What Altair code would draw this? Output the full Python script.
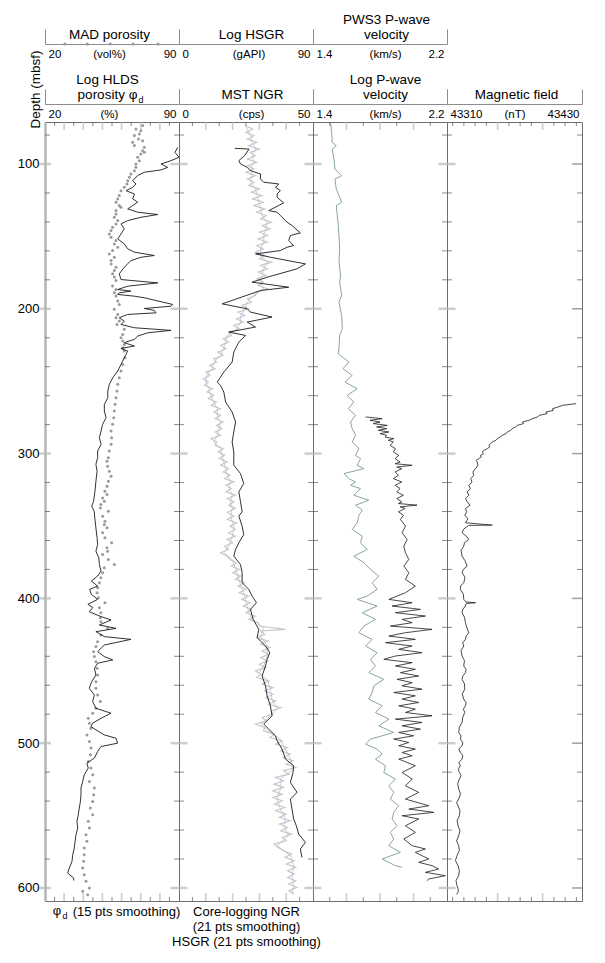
import altair as alt
import pandas as pd

FONT = "Liberation Sans"
DEPTH_DOMAIN = [71, 609]
H = 779

# ---------------- data (depth mbsf, value) ----------------
HLDS = [(88.5, 89.3), (92.0, 87.9), (95.4, 90.0), (97.7, 85.8), (100.0, 80.6), (102.3, 84.1), (104.1, 80.6),
        (105.7, 71.9), (108.0, 68.4), (111.5, 65.8), (113.8, 67.5), (116.1, 65.8), (118.4, 62.3), (120.7, 66.7),
        (124.1, 65.8), (126.4, 68.4), (128.7, 65.8), (131.0, 63.2), (133.3, 68.4), (134.9, 78.9), (136.8, 70.2),
        (139.1, 63.2), (141.4, 59.7), (144.8, 61.4), (148.3, 59.7), (151.7, 58.0), (155.2, 61.4), (158.6, 63.2),
        (160.9, 66.7), (163.2, 77.1), (164.4, 70.2), (166.7, 64.9), (171.3, 61.4), (175.9, 58.8), (179.8, 59.7),
        (182.1, 78.9), (184.4, 63.2), (186.7, 58.0), (187.8, 64.9), (189.0, 58.8), (190.1, 58.0), (191.3, 66.7),
        (192.4, 71.9), (197.0, 86.7), (198.2, 85.8), (199.8, 71.9), (201.1, 77.1), (202.8, 78.0), (203.9, 63.2),
        (206.2, 58.8), (208.5, 61.4), (210.8, 59.7), (213.1, 66.7), (214.9, 85.8), (216.6, 73.6), (218.9, 68.4),
        (221.1, 66.7), (223.4, 61.4), (225.7, 66.7), (227.4, 59.7), (229.2, 63.2), (231.5, 62.3), (233.8, 61.4),
        (238.4, 59.7), (243.0, 58.0), (247.6, 55.4), (252.2, 53.6), (256.8, 52.8), (261.4, 52.8), (266.0, 51.0),
        (270.6, 51.0), (275.2, 51.9), (279.8, 50.1), (284.4, 49.3), (289.0, 48.4), (293.6, 49.3), (298.2, 47.5),
        (302.8, 47.5), (307.4, 46.6), (312.2, 47.2), (319.1, 46.6), (326.0, 46.1), (332.9, 45.4), (336.3, 44.4),
        (339.8, 45.7), (345.5, 46.1), (351.3, 46.6), (358.2, 47.2), (362.8, 47.5), (367.4, 46.6), (372.0, 48.1),
        (376.6, 48.4), (381.1, 49.3), (384.6, 47.5), (388.0, 44.2), (391.5, 47.5), (393.8, 43.3), (397.2, 44.2),
        (400.7, 47.5), (404.1, 42.4), (406.4, 45.0), (409.2, 43.1), (412.6, 49.3), (414.9, 54.5), (418.4, 48.4),
        (420.7, 57.1), (423.0, 46.6), (426.4, 51.0), (428.3, 64.9), (432.2, 51.0), (436.8, 47.5), (440.2, 51.0),
        (442.5, 55.4), (444.8, 47.5), (448.3, 45.8), (452.9, 46.6), (457.5, 44.4), (462.1, 43.1), (466.7, 45.8),
        (471.3, 44.9), (475.9, 46.6), (479.3, 54.5), (482.8, 49.3), (486.2, 44.9), (488.5, 44.0), (490.8, 46.6),
        (494.3, 51.0), (496.6, 57.1), (500.0, 57.9), (502.3, 49.3), (505.7, 47.5), (510.3, 45.8), (513.8, 41.9),
        (517.2, 42.6), (521.8, 40.5), (526.4, 39.7), (531.0, 38.8), (535.6, 38.8), (540.2, 38.5), (544.8, 37.9),
        (549.4, 37.4), (554.0, 36.7), (558.6, 37.1), (563.2, 36.2), (567.8, 35.7), (572.4, 35.3), (577.0, 34.5),
        (581.6, 34.1), (586.2, 32.7), (589.7, 31.8), (593.1, 35.0), (594.9, 35.0)]

MAD = [(73.5, 71.0), (75.8, 67.5), (77.0, 70.1), (79.3, 69.3), (80.4, 66.7), (82.7, 68.8), (83.9, 71.0),
       (85.0, 65.8), (87.3, 66.7), (88.5, 71.9), (90.8, 71.0), (91.9, 71.9), (93.1, 70.1), (95.4, 68.4),
       (97.7, 69.3), (100.0, 67.5), (102.3, 67.5), (104.6, 66.7), (106.9, 64.9), (109.2, 64.1), (111.5, 63.2),
       (113.8, 62.8), (116.1, 61.4), (118.4, 59.7), (121.8, 58.8), (124.1, 58.0), (126.4, 57.1), (128.7, 58.8),
       (129.9, 59.7), (132.2, 57.1), (134.5, 57.1), (136.8, 56.2), (139.1, 58.0), (141.4, 57.1), (143.7, 55.3),
       (146.0, 54.5), (148.3, 53.6), (150.6, 54.5), (152.9, 57.1), (155.2, 56.2), (157.5, 58.0), (159.8, 55.3),
       (162.1, 53.6), (164.4, 56.2), (166.7, 54.5), (169.0, 54.5), (171.3, 57.1), (173.6, 56.2), (175.8, 55.3),
       (178.1, 56.2), (180.4, 57.1), (184.3, 55.3), (186.6, 57.1), (188.9, 56.2), (191.2, 57.1), (194.7, 58.0),
       (197.0, 58.8), (200.4, 56.2), (203.9, 58.0), (206.2, 57.1), (208.5, 58.8), (210.8, 57.6), (214.2, 61.4),
       (217.7, 60.6), (220.0, 59.7), (222.3, 60.6), (224.6, 61.4), (226.9, 60.6), (229.2, 61.4), (233.8, 61.8),
       (238.4, 60.6), (243.0, 59.7), (247.6, 58.8), (252.2, 58.0), (256.8, 57.6), (261.4, 57.1), (266.0, 56.6),
       (270.6, 56.2), (275.2, 55.9), (279.8, 55.3), (284.4, 54.5), (289.0, 54.8), (293.6, 54.5), (298.2, 53.6),
       (302.8, 53.1), (305.3, 52.4), (308.7, 52.7), (312.2, 53.6), (315.6, 54.5), (319.1, 53.1), (322.5, 52.4),
       (326.0, 51.3), (328.3, 52.4), (330.6, 50.1), (332.9, 51.0), (335.2, 49.2), (337.5, 48.9), (339.8, 53.1),
       (343.2, 50.1), (346.7, 51.3), (349.0, 51.0), (351.3, 52.4), (354.7, 50.1), (358.2, 51.3), (361.6, 54.8),
       (365.1, 52.4), (367.4, 52.7), (369.7, 50.1), (373.1, 53.1), (376.6, 56.2), (378.9, 51.0), (382.3, 50.1),
       (385.8, 49.2), (389.2, 48.4), (392.7, 47.5), (396.1, 47.2), (399.6, 47.9), (403.0, 51.3), (406.5, 48.4),
       (409.9, 49.2), (413.4, 48.9), (416.1, 49.2), (420.7, 52.7), (425.3, 49.2), (429.9, 47.5), (433.3, 46.6),
       (436.8, 45.4), (440.2, 45.8), (443.7, 46.6), (448.3, 47.2), (452.9, 47.5), (457.5, 46.6), (462.1, 46.6),
       (466.7, 47.5), (471.3, 48.9), (475.9, 46.6), (479.3, 44.9), (482.8, 42.6), (486.2, 43.2), (489.7, 44.0),
       (494.3, 41.9), (498.8, 43.2), (503.4, 44.0), (508.0, 43.7), (512.6, 42.6), (517.2, 44.0), (521.8, 44.9),
       (526.4, 43.2), (531.0, 45.8), (535.6, 45.4), (540.2, 44.9), (544.8, 43.7), (549.4, 44.9), (554.0, 42.6),
       (558.6, 43.2), (563.2, 41.4), (567.8, 41.9), (572.4, 40.5), (577.0, 40.5), (581.6, 40.2), (586.2, 39.7),
       (590.8, 40.5), (595.4, 41.4), (600.0, 43.2), (602.3, 39.7), (604.6, 42.3)]
MAD_LEGEND_X = [30.4, 42.1, 54.1, 66.0, 79.0]

NGR_RAW = [(73.6, 24.8), (76.0, 27.5), (78.2, 25.0), (80.5, 28.0), (82.8, 25.5), (85.1, 29.0), (87.4, 26.0),
           (89.7, 30.0), (92.0, 26.5), (94.3, 28.5), (96.6, 25.5), (98.9, 29.0), (101.2, 25.5), (103.4, 28.0),
           (105.7, 25.0), (108.0, 28.5), (110.3, 25.5), (112.6, 28.0), (114.9, 26.0), (117.2, 30.0), (119.5, 27.0),
           (121.8, 31.0), (124.1, 27.5), (126.4, 31.5), (128.7, 28.0), (131.0, 32.0), (133.3, 29.0), (135.6, 32.5),
           (137.9, 30.5), (140.2, 34.5), (142.5, 31.0), (144.8, 34.0), (147.1, 30.0), (149.4, 33.0), (151.7, 29.5),
           (154.0, 33.0), (156.3, 29.0), (158.6, 31.5), (160.9, 28.5), (163.2, 32.0), (165.5, 30.0), (167.8, 34.5),
           (170.1, 30.5), (172.4, 33.0), (174.7, 29.5), (177.0, 32.5), (179.3, 29.0), (181.6, 31.5), (183.9, 29.5),
           (186.2, 33.0), (188.5, 29.0), (190.8, 28.5), (193.1, 25.5), (195.4, 27.0), (197.7, 23.5), (200.0, 26.0),
           (202.3, 22.0), (204.6, 24.5), (206.9, 21.5), (209.2, 24.0), (211.5, 20.5), (213.8, 22.5), (216.1, 18.5),
           (218.4, 19.5), (220.7, 16.5), (223.0, 18.5), (225.3, 15.5), (227.6, 17.5), (229.9, 14.5), (232.2, 16.5),
           (234.5, 13.0), (236.8, 14.0), (239.1, 11.5), (241.4, 13.5), (243.7, 10.0), (246.0, 11.5), (248.3, 9.0),
           (250.6, 11.0), (252.9, 9.5), (255.2, 12.5), (257.5, 10.5), (259.8, 13.0), (262.1, 11.0), (264.4, 14.0),
           (266.7, 12.0), (269.0, 15.5), (271.3, 13.0), (273.6, 15.5), (275.9, 13.5), (278.2, 16.5), (280.5, 14.0),
           (282.8, 16.0), (285.1, 13.5), (287.4, 15.5), (289.7, 12.0), (292.0, 14.0), (294.3, 13.5), (296.6, 16.5),
           (298.9, 14.5), (301.1, 17.0), (303.4, 15.0), (305.7, 18.0), (308.0, 15.5), (310.3, 18.5), (312.6, 16.5),
           (314.9, 19.0), (317.2, 17.0), (319.5, 20.5), (321.8, 17.5), (324.1, 19.5), (326.4, 17.5), (328.7, 21.0),
           (331.0, 18.0), (333.3, 20.5), (335.6, 18.5), (337.9, 21.0), (340.5, 18.0), (343.2, 20.5), (345.5, 18.0),
           (347.8, 21.5), (350.1, 19.0), (352.4, 21.0), (354.7, 18.5), (357.0, 21.0), (359.3, 18.0), (361.6, 20.0),
           (363.9, 17.0), (366.2, 18.5), (368.5, 15.5), (370.8, 18.0), (373.1, 19.0), (375.4, 21.5), (377.7, 19.5),
           (380.0, 22.5), (382.3, 20.0), (384.6, 23.0), (386.9, 21.0), (389.2, 24.5), (391.5, 22.0), (393.8, 25.0),
           (396.1, 22.5), (398.4, 26.0), (400.7, 23.5), (403.0, 26.5), (405.3, 24.0), (407.6, 27.0), (409.9, 25.0),
           (412.2, 28.5), (414.5, 26.0), (416.8, 29.5), (419.1, 30.0), (421.4, 39.7), (422.5, 30.5), (424.8, 32.0),
           (427.1, 29.0), (429.4, 33.0), (431.7, 30.5), (434.0, 34.0), (436.3, 31.0), (438.6, 33.5), (440.9, 30.5),
           (443.2, 33.0), (445.5, 30.0), (447.8, 32.5), (450.1, 28.5), (452.4, 30.5), (454.7, 29.0), (457.0, 33.5),
           (459.3, 31.0), (461.6, 35.0), (463.9, 32.0), (466.2, 35.0), (468.5, 32.5), (470.8, 36.0), (473.1, 33.5),
           (475.4, 38.0), (477.7, 34.5), (480.0, 35.0), (482.3, 31.0), (484.6, 32.5), (486.9, 28.5), (489.2, 32.0),
           (491.5, 31.5), (493.8, 35.5), (496.1, 34.0), (498.4, 38.5), (500.7, 36.0), (503.0, 40.5), (505.3, 38.0),
           (507.6, 41.5), (509.9, 39.0), (512.2, 42.5), (514.5, 40.0), (516.8, 43.5), (519.1, 39.0), (521.4, 41.0),
           (523.7, 36.0), (526.0, 39.0), (528.3, 35.5), (530.6, 39.0), (532.9, 35.0), (535.2, 38.5), (537.5, 35.0),
           (539.8, 38.5), (542.1, 35.5), (544.4, 39.5), (546.7, 36.0), (549.0, 40.0), (551.3, 37.5), (553.6, 41.5),
           (555.9, 37.5), (558.2, 40.5), (560.5, 38.0), (562.8, 42.0), (565.1, 38.5), (567.4, 40.0), (569.7, 35.5),
           (572.0, 37.0), (574.3, 39.0), (576.6, 42.0), (578.9, 39.5), (581.2, 43.0), (583.5, 40.0), (585.8, 43.5),
           (588.1, 40.5), (590.4, 43.0), (592.7, 40.5), (595.0, 43.5), (597.3, 41.0), (599.6, 44.0), (601.9, 41.0),
           (604.2, 43.0)]

NGR_CORE = [(73.6, 24.8), (80.5, 26.7), (85.1, 27.3), (89.7, 28.5), (94.3, 27.3), (98.9, 27.9), (103.4, 26.7),
            (108.0, 27.3), (112.6, 26.7), (117.2, 28.5), (121.8, 29.2), (126.4, 29.8), (131.0, 30.4), (135.6, 31.0),
            (140.2, 32.9), (144.8, 32.3), (149.4, 31.6), (154.0, 31.6), (158.6, 30.4), (163.2, 30.4), (167.8, 32.9),
            (172.4, 31.6), (177.0, 31.0), (181.6, 30.4), (186.2, 31.6), (190.8, 27.9), (195.4, 25.4), (200.0, 24.8),
            (204.6, 23.0), (209.2, 23.0), (213.8, 21.7), (218.4, 18.0), (223.0, 17.4), (227.6, 16.7), (232.2, 15.5),
            (236.8, 13.0), (241.4, 12.4), (246.0, 10.5), (250.6, 9.9), (255.2, 11.2), (259.8, 11.8), (264.4, 13.0),
            (269.0, 14.3), (273.6, 14.3), (278.2, 15.5), (282.8, 14.9), (287.4, 14.3), (292.0, 13.0), (296.6, 15.5),
            (301.1, 16.1), (305.7, 16.7), (310.3, 17.4), (314.9, 18.0), (319.5, 19.2), (324.1, 18.6), (328.7, 19.9),
            (333.3, 19.2), (337.9, 19.9), (343.2, 19.2), (350.1, 20.5), (357.0, 19.9), (363.9, 18.6), (368.5, 16.7),
            (373.1, 19.9), (380.0, 21.1), (386.9, 22.3), (393.8, 23.6), (400.7, 24.8), (405.3, 25.4), (409.9, 26.1),
            (414.5, 27.3), (420.2, 31.6), (426.0, 30.4), (432.9, 32.9), (439.8, 32.9), (446.7, 31.6), (451.3, 29.8),
            (455.9, 32.9), (462.8, 34.1), (469.7, 34.7), (476.6, 36.6), (483.4, 32.9), (486.9, 30.4), (492.6, 34.1),
            (497.2, 37.8), (504.1, 39.7), (511.0, 41.6), (517.9, 42.8), (524.8, 37.8), (531.7, 37.8), (538.6, 36.6),
            (545.5, 37.8), (552.4, 39.7), (557.0, 39.1), (563.9, 40.9), (570.8, 36.6), (577.7, 41.6), (584.6, 42.8),
            (591.5, 42.2), (598.4, 42.8), (604.1, 42.2)]

HSGR = [(89.2, 37.5), (89.7, 47.1), (94.3, 44.0), (97.7, 40.2), (100.0, 41.3), (102.3, 45.8), (104.6, 48.0),
        (106.9, 54.7), (110.3, 54.7), (112.6, 56.9), (113.8, 67.0), (116.1, 64.8), (118.4, 68.1), (120.7, 65.9),
        (123.0, 65.9), (126.9, 70.3), (132.2, 60.3), (133.3, 65.9), (135.6, 68.1), (140.2, 72.6), (142.5, 75.9),
        (147.6, 81.5), (149.4, 74.8), (152.9, 73.7), (156.3, 77.0), (157.5, 72.6), (159.8, 68.1), (162.1, 51.4),
        (164.4, 61.4), (169.0, 84.9), (172.4, 79.3), (178.2, 59.2), (181.6, 49.1), (185.1, 73.7), (187.4, 54.7),
        (196.6, 29.0), (200.0, 45.8), (202.3, 48.0), (205.7, 62.5), (209.2, 45.8), (212.6, 51.4), (216.1, 33.5),
        (218.4, 44.7), (223.0, 40.2), (229.9, 36.8), (236.8, 35.7), (243.7, 30.1), (250.6, 25.7), (252.9, 27.9),
        (257.5, 30.1), (264.4, 31.3), (271.3, 35.7), (278.2, 38.0), (285.1, 36.8), (292.0, 35.7), (298.9, 36.8),
        (308.0, 36.8), (313.8, 41.3), (320.7, 43.5), (326.4, 40.2), (333.3, 41.3), (340.2, 42.4), (343.2, 40.2),
        (350.1, 42.4), (355.9, 43.5), (361.6, 40.2), (366.2, 38.0), (370.8, 36.8), (376.6, 41.3), (382.3, 42.4),
        (389.2, 42.4), (393.8, 46.9), (398.4, 49.1), (403.0, 52.0), (407.6, 48.0), (414.5, 49.8), (421.4, 53.6),
        (427.1, 52.5), (432.9, 58.1), (437.5, 61.0), (442.1, 59.2), (446.7, 58.1), (453.6, 55.8), (460.5, 58.1),
        (467.4, 59.2), (474.3, 61.4), (481.1, 62.5), (486.9, 56.9), (490.3, 60.3), (494.9, 64.8), (498.4, 65.9),
        (504.1, 69.2), (511.0, 71.5), (515.6, 77.0), (520.2, 76.6), (527.1, 74.8), (534.0, 79.3), (538.6, 74.8),
        (545.5, 75.9), (552.4, 77.0), (557.0, 78.8), (562.8, 80.4), (568.5, 84.9), (573.1, 81.5), (578.9, 82.6)]

VP_LOG = [(71.3, 1.505), (78.2, 1.511), (85.1, 1.515), (87.4, 1.539), (89.7, 1.515), (96.6, 1.525), (103.5, 1.531),
          (108.1, 1.571), (110.4, 1.531), (117.3, 1.539), (126.4, 1.571), (128.7, 1.539), (135.6, 1.545),
          (142.5, 1.551), (149.4, 1.555), (158.6, 1.559), (167.8, 1.555), (177.0, 1.565), (181.6, 1.559),
          (190.8, 1.571), (195.4, 1.555), (204.6, 1.571), (213.8, 1.575), (218.4, 1.559), (227.6, 1.555),
          (231.0, 1.551), (236.8, 1.614), (241.4, 1.579), (246.0, 1.634), (250.6, 1.591), (255.2, 1.664),
          (259.8, 1.604), (264.4, 1.644), (269.0, 1.610), (273.6, 1.654), (278.2, 1.624), (282.8, 1.634),
          (287.4, 1.654), (292.0, 1.634), (296.6, 1.674), (301.2, 1.654), (303.5, 1.684), (308.1, 1.664),
          (310.4, 1.704), (313.8, 1.585), (317.3, 1.614), (319.6, 1.654), (321.9, 1.624), (324.2, 1.684),
          (328.8, 1.644), (332.2, 1.733), (335.7, 1.654), (339.1, 1.694), (342.6, 1.674), (347.8, 1.664),
          (352.4, 1.634), (357.0, 1.694), (361.6, 1.684), (366.2, 1.724), (370.8, 1.644), (375.4, 1.704),
          (380.0, 1.743), (384.6, 1.793), (389.2, 1.753), (393.8, 1.783), (398.4, 1.724), (400.7, 1.664),
          (405.3, 1.783), (409.9, 1.694), (414.5, 1.773), (419.1, 1.704), (423.7, 1.674), (428.3, 1.753),
          (432.9, 1.714), (437.5, 1.783), (442.1, 1.743), (446.7, 1.773), (451.3, 1.733), (455.9, 1.823),
          (460.4, 1.763), (465.0, 1.753), (469.6, 1.733), (474.2, 1.813), (478.8, 1.773), (483.4, 1.853),
          (488.0, 1.793), (492.6, 1.882), (497.2, 1.743), (500.7, 1.714), (504.1, 1.783), (507.6, 1.813),
          (511.0, 1.773), (515.6, 1.833), (520.2, 1.823), (524.8, 1.892), (529.4, 1.853), (534.0, 1.882),
          (538.6, 1.862), (543.2, 1.912), (547.8, 1.882), (552.4, 1.872), (557.0, 1.902), (561.6, 1.862),
          (566.2, 1.882), (570.8, 1.853), (575.4, 1.922), (580.0, 1.813), (584.6, 1.892), (585.7, 1.932)]

PWS3 = [(274.7, 1.714), (275.9, 1.813), (277.0, 1.740), (278.2, 1.800), (279.3, 1.760), (280.5, 1.843),
        (281.6, 1.780), (282.8, 1.840), (283.9, 1.790), (285.1, 1.853), (286.2, 1.800), (287.4, 1.840),
        (288.6, 1.830), (289.7, 1.882), (290.8, 1.850), (292.0, 1.880), (294.3, 1.860), (296.6, 1.892),
        (298.9, 1.880), (301.2, 1.912), (303.5, 1.890), (305.8, 1.920), (307.0, 1.890), (308.1, 1.992),
        (309.3, 1.900), (310.4, 1.930), (312.7, 1.890), (315.0, 1.910), (317.3, 1.880), (319.6, 1.930),
        (321.9, 1.890), (324.2, 1.920), (326.5, 1.900), (328.8, 1.940), (331.1, 1.900), (333.3, 1.930),
        (334.5, 1.910), (335.6, 2.021), (336.8, 1.920), (337.9, 1.950), (340.2, 1.910), (342.6, 1.940),
        (345.5, 1.922), (350.1, 1.952), (354.7, 1.932), (359.3, 1.962), (363.9, 1.942), (368.5, 1.952),
        (373.1, 1.972), (377.7, 1.942), (382.3, 1.972), (386.9, 1.952), (391.5, 2.011), (396.1, 1.952),
        (400.7, 1.853), (403.0, 1.992), (405.3, 1.872), (407.6, 2.041), (409.9, 1.892), (412.2, 2.071),
        (414.5, 1.932), (416.8, 1.992), (419.1, 1.862), (421.4, 2.111), (423.7, 1.952), (426.0, 1.853),
        (428.3, 2.011), (430.6, 1.833), (432.9, 1.992), (435.2, 1.912), (437.5, 2.051), (439.8, 1.892),
        (442.1, 1.823), (444.4, 1.992), (446.7, 1.892), (449.0, 2.011), (451.3, 1.922), (453.6, 2.031),
        (455.9, 1.902), (458.2, 1.992), (460.4, 1.932), (462.7, 2.051), (465.0, 1.882), (467.3, 2.011),
        (469.6, 1.932), (471.9, 2.031), (474.2, 1.912), (476.5, 2.011), (478.8, 1.952), (481.1, 2.111),
        (483.4, 1.892), (485.7, 2.051), (488.0, 1.932), (490.3, 2.041), (492.6, 1.912), (494.9, 2.001),
        (497.2, 1.882), (499.5, 1.972), (501.8, 1.912), (504.1, 2.011), (506.4, 1.932), (508.7, 1.992),
        (511.0, 1.912), (515.6, 2.011), (520.2, 1.932), (524.8, 1.992), (529.4, 1.952), (534.0, 2.031),
        (538.6, 1.952), (543.2, 2.091), (545.5, 1.972), (547.8, 2.121), (550.1, 1.932), (552.4, 2.031),
        (557.0, 1.952), (561.6, 2.011), (566.2, 1.942), (570.8, 1.992), (573.1, 2.071), (575.4, 2.011),
        (580.0, 2.091), (582.3, 2.031), (584.6, 2.111), (586.9, 2.150), (589.2, 2.071), (591.5, 2.190),
        (593.8, 2.091), (595.0, 2.080)]

MAG = [(265.5, 43424.7), (266.7, 43412.7), (268.0, 43408.0), (269.0, 43403.8), (270.2, 43404.5), (271.3, 43397.9),
       (272.4, 43399.0), (273.6, 43391.9), (274.7, 43390.5), (275.9, 43385.9), (277.0, 43383.0), (278.2, 43377.0),
       (279.3, 43378.0), (280.5, 43372.5), (281.6, 43371.0), (282.8, 43368.1), (284.0, 43366.5), (285.1, 43363.6),
       (286.2, 43362.5), (287.4, 43359.1), (288.6, 43357.0), (289.7, 43354.7), (290.8, 43353.5), (292.0, 43350.2),
       (293.1, 43349.0), (294.3, 43347.2), (295.4, 43348.0), (296.6, 43345.7), (297.7, 43343.0), (298.9, 43341.3),
       (300.0, 43342.5), (301.2, 43339.8), (302.3, 43340.5), (303.5, 43338.3), (304.6, 43336.0), (305.8, 43336.8),
       (308.1, 43337.5), (310.4, 43335.3), (312.7, 43333.0), (315.0, 43333.8), (317.3, 43331.0), (319.6, 43332.3),
       (321.9, 43329.5), (324.2, 43330.8), (326.5, 43328.0), (328.8, 43329.4), (331.0, 43326.5), (333.3, 43327.9),
       (335.6, 43330.5), (337.9, 43326.4), (340.2, 43327.5), (342.6, 43325.8), (345.0, 43328.5), (347.8, 43326.5),
       (349.4, 43350.2), (349.6, 43329.4), (352.0, 43325.0), (354.7, 43323.4), (357.0, 43327.0), (359.3, 43329.4),
       (361.6, 43325.5), (363.9, 43324.9), (367.0, 43322.5), (370.8, 43323.4), (374.0, 43326.0), (377.7, 43327.9),
       (380.0, 43324.5), (382.3, 43323.4), (385.5, 43326.0), (389.2, 43324.9), (391.5, 43322.0), (393.8, 43321.9),
       (397.0, 43324.5), (400.7, 43324.9), (402.5, 43327.0), (403.0, 43335.3), (403.5, 43327.0), (405.3, 43326.4),
       (407.6, 43324.0), (409.9, 43323.4), (413.0, 43325.5), (416.8, 43326.4), (420.0, 43327.5), (423.7, 43329.4),
       (426.0, 43327.0), (428.3, 43326.4), (430.6, 43324.0), (432.9, 43324.9), (436.0, 43322.5), (439.8, 43323.4),
       (443.0, 43325.5), (446.7, 43324.9), (449.0, 43327.0), (451.3, 43326.4), (453.6, 43324.0), (455.9, 43323.4),
       (459.0, 43325.5), (462.7, 43325.8), (466.0, 43323.5), (469.6, 43324.9), (472.0, 43327.0), (474.2, 43326.4),
       (476.5, 43324.5), (478.8, 43325.8), (482.0, 43324.0), (485.7, 43323.4), (489.0, 43321.0), (492.6, 43320.4),
       (495.0, 43322.5), (497.2, 43321.9), (499.5, 43324.0), (501.8, 43323.4), (504.0, 43320.5), (506.4, 43321.9),
       (508.7, 43324.0), (511.0, 43323.4), (513.3, 43320.5), (515.6, 43321.9), (518.0, 43320.0), (520.2, 43321.0),
       (522.5, 43322.5), (524.8, 43321.0), (528.0, 43319.5), (531.7, 43320.4), (535.0, 43322.0), (538.6, 43320.4),
       (541.0, 43318.5), (543.2, 43319.8), (546.5, 43321.5), (550.1, 43321.0), (553.5, 43319.0), (557.0, 43319.8),
       (560.5, 43321.5), (563.9, 43320.4), (567.5, 43318.5), (570.8, 43320.4), (574.0, 43321.0), (577.7, 43318.9),
       (581.0, 43317.5), (584.6, 43319.8), (588.0, 43321.0), (591.5, 43320.4), (595.0, 43318.0), (598.4, 43318.9),
       (601.0, 43320.0), (603.0, 43319.8), (604.5, 43318.5)]

# tick positions
DEPTH_LABELS = [100, 200, 300, 400, 500, 600]
DEPTH_MINOR = [80, 120, 140, 160, 180, 220, 240, 260, 280, 320, 340, 360, 380, 420, 440, 460, 480,
               520, 540, 560, 580]
P1_MINOR, P1_MAJOR = [25, 35, 45, 55, 65, 75, 85], [30, 40, 50, 60, 70, 80]
P2_MINOR, P2_MAJOR = [5, 15, 25, 35, 45], [10, 20, 30, 40]
P3_MINOR, P3_MAJOR = [1.5, 1.7, 1.9, 2.1], [1.6, 1.8, 2.0]
P4_MINOR = [43315, 43325, 43335, 43345, 43365, 43375, 43385, 43405, 43415, 43425]
P4_MAJOR = [43355, 43395]


def frame(pairs):
    return pd.DataFrame(pairs, columns=["depth", "value"])


def ysc():
    return alt.Scale(domain=DEPTH_DOMAIN, reverse=True, nice=False, zero=False)


def xsc(dom):
    return alt.Scale(domain=dom, nice=False, zero=False)


Y_AXIS = alt.Axis(values=DEPTH_LABELS, ticks=False, domain=True, domainColor="#b4b4b4", domainWidth=2.5,
                  labelFontSize=13, labelPadding=6, labelColor="#000", labelFont=FONT,
                  title="Depth (mbsf)", titleFontSize=13.5, titleFont=FONT, titleFontWeight="normal",
                  titleColor="#000", titleX=-6, titleY=6, titleAlign="left", titleBaseline="alphabetic",
                  titleAngle=270)


def hdr_axis(title, lo, mid, hi, unit, offset, fmt=None, title_x=None):
    kw = {}
    if fmt:
        kw["format"] = fmt
    if title_x is not None:
        kw["titleX"] = title_x
    n_lines = len(title) if isinstance(title, list) else 1
    return alt.Axis(orient="top", offset=offset, values=[lo, mid, hi], title=title,
                    domain=True, domainColor="#8c8c8c", domainWidth=1,
                    ticks=True, tickSize=15, tickColor="#8c8c8c", tickWidth=1,
                    tickOpacity={"condition": {"test": f"datum.value == {mid}", "value": 0}, "value": 1},
                    labelExpr=f"datum.value == {mid} ? '{unit}' : datum.label",
                    labelFlush=True, labelFlushOffset=-3, labelPadding=-25.5, labelBaseline="middle",
                    labelFontSize=11.5, labelColor="#000", labelOverlap=False, labelFont=FONT,
                    titleY=-3 - 15 * (n_lines - 1), titleBaseline="bottom", titleFontSize=13.5, titleFont=FONT,
                    titleFontWeight="normal", titleColor="#000", titleLineHeight=15, grid=False, **kw)


def line(pairs, dom, color, width, yaxis, axis=None):
    return alt.Chart(frame(pairs)).mark_line(color=color, strokeWidth=width, clip=True).encode(
        x=alt.X("value:Q", scale=xsc(dom), axis=axis),
        y=alt.Y("depth:Q", scale=ysc(), axis=yaxis),
        order="depth:Q")


def frame_ticks(dom, minor, major, yaxis, left="cross", right=False, bottom_axis=None):
    layers = []
    for vals, size, color, thick in [(minor, 4, "#555555", 1), (major, 8, "#b8b8b8", 1.6)]:
        for d, off in [(DEPTH_DOMAIN[0], size / 2), (DEPTH_DOMAIN[1], -size / 2)]:
            df = pd.DataFrame({"value": vals, "depth": [d] * len(vals)})
            layers.append(alt.Chart(df).mark_tick(orient="vertical", size=size, thickness=thick,
                                                   color=color, yOffset=off).encode(
                x=alt.X("value:Q", scale=xsc(dom), axis=None),
                y=alt.Y("depth:Q", scale=ysc(), axis=yaxis)))
    if left == "inner":
        specs = [(DEPTH_MINOR, 5, "#555555", 1, 2.5, dom[0]), (DEPTH_LABELS, 12, "#b8b8b8", 2.5, 0, dom[0])]
    else:
        specs = [(DEPTH_MINOR, 10, "#555555", 1, 0, dom[0]), (DEPTH_LABELS, 17, "#b8b8b8", 2.5, 0, dom[0])]
    if right:
        specs += [(DEPTH_MINOR, 5, "#555555", 1, -2.5, dom[1]), (DEPTH_LABELS, 10, "#777777", 1.5, -5, dom[1])]
    for vals, size, color, thick, off, xv in specs:
        df = pd.DataFrame({"depth": vals, "value": [xv] * len(vals)})
        layers.append(alt.Chart(df).mark_tick(orient="horizontal", size=size, thickness=thick,
                                               color=color, xOffset=off).encode(
            x=alt.X("value:Q", scale=xsc(dom), axis=None),
            y=alt.Y("depth:Q", scale=ysc(), axis=yaxis)))
    if bottom_axis is not None:
        df = pd.DataFrame({"value": [dom[0]], "depth": [DEPTH_DOMAIN[1]]})
        layers.append(alt.Chart(df).mark_point(opacity=0).encode(
            x=alt.X("value:Q", scale=xsc(dom), axis=bottom_axis),
            y=alt.Y("depth:Q", scale=ysc(), axis=yaxis)))
    return layers


def note(txt, x, y, size):
    return alt.Chart(pd.DataFrame({"t": [txt]})).mark_text(
        fontSize=size, font=FONT, align="center", baseline="alphabetic", color="#000").encode(
        x=alt.value(x), y=alt.value(y), text="t:N")


def bottom_title(title, title_x=None):
    kw = {}
    if title_x is not None:
        kw["titleX"] = title_x
    return alt.Axis(orient="bottom", domain=False, ticks=False, labels=False, title=title,
                    titleY=14, titleBaseline="alphabetic", titleAlign="center", titleFontSize=13,
                    titleFont=FONT, titleFontWeight="normal", titleColor="#000", titleLineHeight=15,
                    grid=False, **kw)


# ---------------- panel 1 ----------------
D1 = [20, 90]
mad = alt.Chart(frame(MAD)).mark_circle(size=9, color="#9a9a9a", opacity=1).encode(
    x=alt.X("value:Q", scale=xsc(D1), axis=hdr_axis("MAD porosity", 20, 53.4, 90, "(vol%)", 78, title_x=64)),
    y=alt.Y("depth:Q", scale=ysc(), axis=Y_AXIS))
mad_legend = alt.Chart(pd.DataFrame({"value": MAD_LEGEND_X})).mark_circle(
    size=10, color="#9a9a9a", opacity=1).encode(
    x=alt.X("value:Q", scale=xsc(D1), axis=None), y=alt.value(-78))
hlds = line(HLDS, D1, "#1a1a1a", 0.9, Y_AXIS,
            hdr_axis(["Log HLDS", "porosity \u03c6"], 20, 53.4, 90, "(%)", 18, title_x=62))
p1 = alt.layer(mad, mad_legend, hlds,
               *frame_ticks(D1, P1_MINOR, P1_MAJOR, Y_AXIS, left="inner",
                            bottom_axis=bottom_title("(15 pts smoothing)", 81)),
               note("d", 96, -19, 9), note("\u03c6", 12, 793, 13), note("d", 20, 797, 9)
               ).resolve_scale(x="independent").properties(width=134, height=H)

# ---------------- panel 2 ----------------
D2, D2B = [0, 50], [0, 90]
ngr_raw = line(NGR_RAW, D2, "#c8c8c8", 1.2, None, hdr_axis("MST NGR", 0, 26.9, 50, "(cps)", 18, title_x=73))
ngr_core = line(NGR_CORE, D2, "#b8b8dc", 0.7, None)
hsgr = line(HSGR, D2B, "#1a1a1a", 0.9, None, hdr_axis("Log HSGR", 0, 46.7, 90, "(gAPI)", 78, title_x=72))
p2 = alt.layer(ngr_raw, ngr_core, hsgr,
               *frame_ticks(D2, P2_MINOR, P2_MAJOR, None,
                            bottom_axis=bottom_title(["Core-logging NGR", "(21 pts smoothing)",
                                                      "HSGR (21 pts smoothing)"]))
               ).resolve_scale(x="independent").properties(width=134, height=H)

# ---------------- panel 3 ----------------
D3 = [1.4, 2.2]
vp_log = line(VP_LOG, D3, "#8aa4a6", 1.0, None,
              hdr_axis(["Log P-wave", "velocity"], 1.4, 1.83, 2.2, "(km/s)", 18, title_x=72))
pws3 = line(PWS3, D3, "#1a1a1a", 0.8, None,
            hdr_axis(["PWS3 P-wave", "velocity"], 1.4, 1.83, 2.2, "(km/s)", 78, title_x=73))
p3 = alt.layer(vp_log, pws3, *frame_ticks(D3, P3_MINOR, P3_MAJOR, None)
               ).resolve_scale(x="independent").properties(width=134, height=H)

# ---------------- panel 4 ----------------
D4 = [43310, 43430]
mag = line(MAG, D4, "#1a1a1a", 0.8, None,
           hdr_axis("Magnetic field", 43310, 43370, 43430, "(nT)", 18, fmt="d", title_x=69))
p4 = alt.layer(mag, *frame_ticks(D4, P4_MINOR, P4_MAJOR, None, right=True)
               ).resolve_scale(x="independent").properties(width=135, height=H)

chart = alt.hconcat(p1, p2, p3, p4, spacing=0, bounds="flush").properties(
    padding={"left": 8, "top": 3, "right": 5, "bottom": 5}
).configure_view(stroke="#6e6e6e", strokeWidth=1).configure_axis(
    grid=False, labelFont=FONT, titleFont=FONT, titleFontWeight="normal"
).configure_text(font=FONT)

chart.save("out.html", embed_options={"renderer": "svg", "actions": False})
